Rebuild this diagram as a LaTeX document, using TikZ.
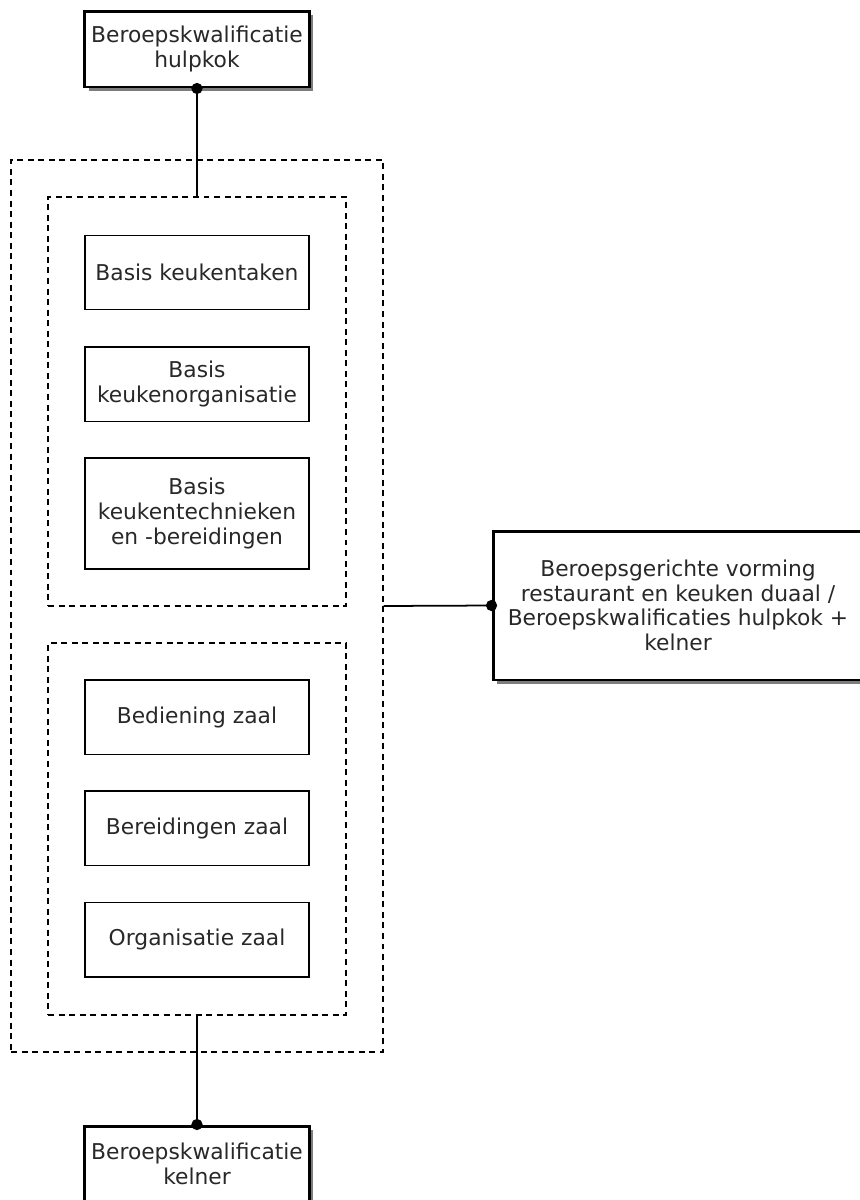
\documentclass[tikz,border=0pt]{standalone}
\usepackage{fontspec}
\setmainfont{DejaVu Sans}
\usetikzlibrary{shadows}
\definecolor{txtgray}{RGB}{40,40,40}
\definecolor{shadowgray}{RGB}{125,125,125}

\begin{document}
\begin{tikzpicture}[x = 0.02cm, y = -0.02cm,
    every node/.style = {font = \fontsize{12.4}{14}\selectfont, text = txtgray, align = center},
    unit/.style = {draw, line width = 0.85pt, minimum width = 4.48cm, minimum height = 1.49cm, inner sep = 2pt},
    kwal/.style = {draw, line width = 1.7pt, fill = white, minimum width = 4.5cm, minimum height = 1.52cm, inner sep = 2pt,
        drop shadow = {shadow xshift = 0.08cm, shadow yshift = -0.08cm, fill = shadowgray, opacity = 1}},
    cluster/.style = {draw, line width = 0.8pt, dash pattern = on 3.4pt off 2.6pt, inner sep = 0pt},
    dot/.style = {fill = black}]
			\useasboundingbox (0,0) rectangle (859,1200);
			% containers
			\node (outer) at (197,606) [cluster, minimum width = 7.44cm, minimum height = 17.84cm] {};
			\node (kitchen) at (197,401.5) [cluster, minimum width = 5.96cm, minimum height = 8.18cm] {};
			\node (hall) at (197,829) [cluster, minimum width = 5.96cm, minimum height = 7.44cm] {};
			% units
			\node (taken) at (197,272.5) [unit] {Basis keukentaken};
			\node (org) at (197,384) [unit] {Basis\\keukenorganisatie};
			\node (techn) at (197,513.5) [unit, minimum height = 2.22cm] {Basis\\keukentechnieken\\en -bereidingen};
			\node (bediening) at (197,717) [unit] {Bediening zaal};
			\node (bereiding) at (197,828) [unit] {Bereidingen zaal};
			\node (organisatie) at (197,939.5) [unit] {Organisatie zaal};
			% qualifications
			\node (hulpkok) at (197,49) [kwal] {Beroepskwalificatie\\hulpkok};
			\node (duaal) at (678,605.5) [kwal, minimum width = 7.4cm, minimum height = 2.98cm] {Beroepsgerichte vorming\\restaurant en keuken duaal /\\Beroepskwalificaties hulpkok +\\kelner};
			\node (kelner) at (197,1164) [kwal] {Beroepskwalificatie\\kelner};
			% connectors
			\draw[line width = 1pt] (hulpkok.south) -- (kitchen.north);
			\draw[line width = 1pt] (outer.east) -- (duaal.west);
			\draw[line width = 1pt] (hall.south) -- (kelner.north);
			\fill[dot] (hulpkok.south) circle (3.2pt);
			\fill[dot] (duaal.west) circle (3.2pt);
			\fill[dot] (kelner.north) circle (3.2pt);
			\end{tikzpicture}
\end{document}
